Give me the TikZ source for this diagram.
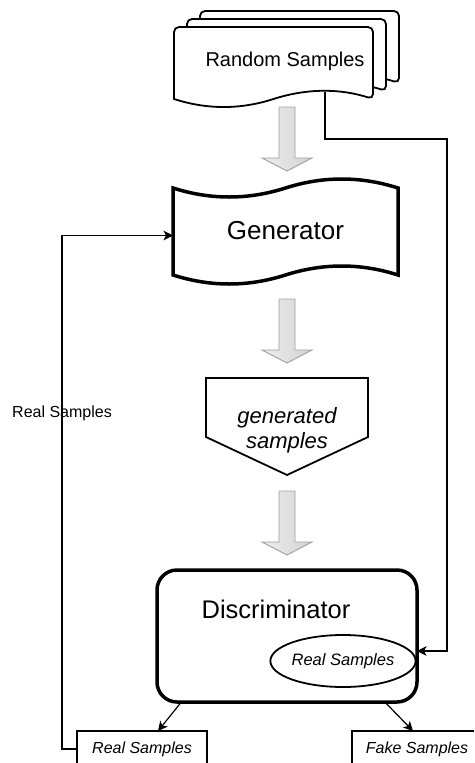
\documentclass[tikz,border=0pt]{standalone}
\usepackage{fontspec}
\setmainfont{Liberation Sans}
\usetikzlibrary{arrows.meta,calc,shapes.geometric}

% one sheet of the stacked "document" symbol: #1 = left x, #2 = top y
\newcommand\docpage[2]{%
  \draw[docline] ({#1},{#2+72}) [rounded corners=5pt] -- ({#1},{#2}) -- ({#1+199},{#2})
    -- ({#1+199},{#2+72}) [sharp corners]
    .. controls ({#1+165.8},{#2+61.3}) and ({#1+132.7},{#2+61.3}) .. ({#1+99.5},{#2+72})
    .. controls ({#1+66.3},{#2+82.7}) and ({#1+33.2},{#2+82.7}) .. ({#1},{#2+72}) -- cycle;}

% thick grey downward block arrow whose shaft starts at height #1
\newcommand\blockdown[1]{%
  \path[bigarrow] (279,#1) -- ++(16,0) -- ++(0,51) -- ++(17,0) -- ++(-25,13)
    -- ++(-25,-13) -- ++(17,0) -- cycle;}

\begin{document}
\begin{tikzpicture}[x=1pt,y=-1pt,
  docline/.style={draw=black, fill=white, line width=1.8pt},
  bigarrow/.style={draw=gray!75, line width=0.9pt, left color=gray!14, right color=gray!34},
  conn/.style={draw=black, line width=1.2pt, -{Stealth[length=9.5pt,width=9.5pt,inset=2.5pt]}},
  lbl/.style={inner sep=0pt, text=black},
  plainbox/.style={draw=black, line width=1.2pt, fill=white, minimum width=130pt,
    minimum height=36pt, outer sep=0pt, inner sep=0pt, font=\itshape\fontsize{16}{19}\selectfont}]

\fill[white] (0,0) rectangle (474,763);
\useasboundingbox (0,0) rectangle (474,763);
\clip (0,0) rectangle (474,763);

% stacked random sample sheets
\docpage{200}{11}
\docpage{187}{19}
\docpage{174}{27}
\node[lbl, font=\fontsize{20}{24}\selectfont] (rs) at (285,61) {Random Samples};
\coordinate (rsout) at (325,92);

% block arrows of the main flow
\blockdown{107}
\blockdown{299}
\blockdown{491}

% generator (tape symbol)
\draw[line width=3.5pt, fill=white] (173,188)
  .. controls (210.5,200) and (248,200) .. (285.5,188)
  .. controls (323,176) and (360.5,176) .. (398,188) -- (398,275)
  .. controls (360.5,263) and (323,263) .. (285.5,275)
  .. controls (248,287) and (210.5,287) .. (173,275) -- cycle;
\node[lbl, minimum width=225pt, minimum height=111pt, outer sep=0pt,
      font=\fontsize{26}{30}\selectfont] (gen) at (285.5,231) {Generator};

% generated samples (off-page connector)
\draw[line width=1.8pt, fill=white] (206,378) -- (368,378) -- (368,437) -- (287,475)
  -- (206,437) -- cycle;
\node[lbl, align=center, font=\itshape\fontsize{22}{25}\selectfont] (gs) at (287,430)
  {generated\\samples};

% discriminator
\node[draw=black, line width=3.5pt, rounded corners=20pt, fill=white, minimum width=260pt,
      minimum height=132pt, outer sep=0pt] (disc) at (287,636) {};
\node[lbl, font=\fontsize{25.5}{30}\selectfont] (disctext) at (276,609) {Discriminator};
\node[draw=black, ellipse, line width=1.8pt, minimum width=116pt, minimum height=52pt,
      inner sep=0pt, font=\itshape\fontsize{16.5}{19}\selectfont] (real) at (343,661) {Real Samples};

% outputs
\node[plainbox] (rbox) at (142,749) {Real Samples};
\node[plainbox] (fbox) at (417,749) {Fake Samples};

% connectors
\draw[conn] (rsout) -- ++(0,47) -- ++(122,0) |- ([yshift=-15pt]disc.east);
\draw[conn] (disc.212) -- ([xshift=16pt]rbox.north);
\draw[conn] (disc.326.6) -- ([xshift=-4pt]fbox.north);
\draw[conn] (rbox.west) -- ++(-15,0) |- ([yshift=-4.5pt]gen.west);
\node[lbl, font=\fontsize{16}{19}\selectfont] (fb) at (62,413) {Real Samples};
\end{tikzpicture}
\end{document}
